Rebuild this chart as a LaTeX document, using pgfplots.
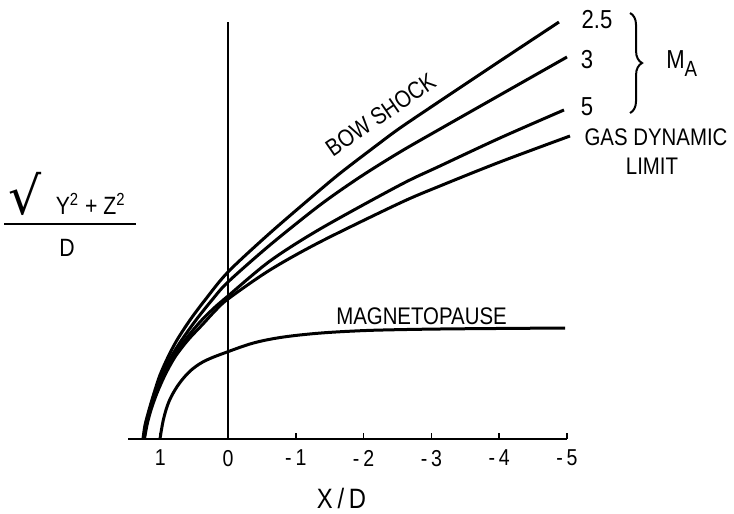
\documentclass[border=0pt]{standalone}
\usepackage{fontspec}
\setmainfont{Liberation Sans}[FakeStretch=0.85]
\newfontfamily\symfont{DejaVu Sans}
\usepackage{pgfplots}
\pgfplotsset{compat=1.18}
\usetikzlibrary{decorations.pathreplacing}

\begin{document}
\begin{tikzpicture}
\begin{axis}[
    x=33.9pt, y=33.9pt,
    x dir=reverse,
    xmin=-5, xmax=1.47,
    ymin=0, ymax=6.2,
    axis x line*=bottom,
    hide y axis,
    xtick={-5,-4,-3,-2,-1,0,1},
    xticklabels={-\,5,-\,4,-\,3,-\,2,-\,1,0,1},
    tick align=inside,
    major tick length=3pt,
    tick style={line width=0.8pt, black},
    axis line style={line width=1pt},
    xticklabel style={font=\fontsize{11.5}{13}\selectfont, yshift=-2pt},
    clip=false,
]

% bow shock, M_A = 2.5
\addplot[black, line width=1.5pt, smooth, tension=0.5] coordinates {
    (1.254,0) (1.224,0.206) (1.165,0.428) (1.091,0.678) (1.003,0.944)
    (0.885,1.209) (0.752,1.460) (0.560,1.755) (0.339,2.050) (0,2.463)
    (-0.619,3.038) (-1.357,3.673) (-1.696,3.953) (-2.198,4.336)
    (-2.537,4.587) (-3.127,4.985) (-4.012,5.575) (-4.882,6.150)
};
% M_A = 3
\addplot[black, line width=1.5pt, smooth, tension=0.5] coordinates {
    (1.246,0) (1.209,0.206) (1.158,0.428) (1.077,0.678) (0.973,0.944)
    (0.841,1.209) (0.683,1.460) (0.472,1.755) (0.236,2.050) (0,2.316)
    (-0.619,2.861) (-1.357,3.451) (-1.947,3.864) (-2.537,4.233)
    (-3.127,4.572) (-4.012,5.074) (-5.000,5.634)
};
% M_A = 5
\addplot[black, line width=1.5pt, smooth, tension=0.5] coordinates {
    (1.239,0) (1.202,0.206) (1.150,0.428) (1.062,0.678) (0.951,0.944)
    (0.811,1.209) (0.634,1.460) (0.413,1.726) (0.206,1.932) (0,2.109)
    (-0.619,2.625) (-1.357,3.097) (-2.537,3.746) (-3.127,4.027)
    (-4.012,4.440) (-4.956,4.853)
};
% gas dynamic limit
\addplot[black, line width=1.5pt, smooth, tension=0.5] coordinates {
    (1.232,0) (1.195,0.206) (1.136,0.428) (1.047,0.678) (0.929,0.944)
    (0.782,1.209) (0.590,1.460) (0.369,1.696) (0.192,1.888) (0,2.065)
    (-0.619,2.493) (-1.357,2.906) (-2.537,3.481) (-3.127,3.732)
    (-4.012,4.086) (-5.044,4.469)
};
% magnetopause
\addplot[black, line width=1.5pt, smooth, tension=0.6] coordinates {
    (1.003,0) (0.954,0.280) (0.881,0.527) (0.782,0.723) (0.659,0.895)
    (0.512,1.042) (0.314,1.165) (0,1.288) (-0.324,1.401) (-0.594,1.466)
    (-0.914,1.517) (-1.357,1.562) (-1.850,1.592) (-2.345,1.609)
    (-3.274,1.624) (-4.971,1.637)
};
% x = 0 line
\addplot[black, line width=1pt] coordinates {(0,0) (0,6.15)};

\node[font=\fontsize{12}{14}\selectfont, rotate=34.5] at (axis cs:-2.25,4.78) {BOW SHOCK};
\node[font=\fontsize{12}{14}\selectfont] at (axis cs:-2.854,1.814) {MAGNETOPAUSE};
\node[font=\fontsize{13}{15}\selectfont] at (axis cs:-5.442,6.187) {2.5};
\node[font=\fontsize{13}{15}\selectfont] at (axis cs:-5.295,5.590) {3};
\node[font=\fontsize{13}{15}\selectfont] at (axis cs:-5.295,4.897) {5};
\draw[line width=1pt, decorate, decoration={brace, amplitude=6pt}]
    (axis cs:-5.93,6.283) -- (axis cs:-5.93,4.808);
\node[font=\fontsize{13}{15}\selectfont, anchor=west] at (axis cs:-6.36,5.531)
    {M\raisebox{-4pt}{\fontsize{11}{13}\selectfont A}};
\node[font=\fontsize{12}{14}\selectfont] at (axis cs:-6.313,4.454) {GAS DYNAMIC};
\node[font=\fontsize{12}{14}\selectfont] at (axis cs:-6.254,4.027) {LIMIT};
\node[font=\fontsize{14}{16}\selectfont] at (axis cs:-1.674,-0.88) {X\,/\,D};
\node[font=\fontsize{12.5}{14}\selectfont, inner sep=0pt] at (axis cs:2.33,3.252) {%
    \arrayrulewidth=1pt
    \begin{tabular}{@{\hspace{2pt}}c@{\hspace{5pt}}}
    {\symfont\fontsize{26}{26}\selectfont √}\,\, Y\textsuperscript{2} + Z\textsuperscript{2}\\[0pt]
    \hline
    \rule{0pt}{16pt}D
    \end{tabular}};

\coordinate (bbl) at (axis cs:3.363,-1.106);
\coordinate (btr) at (axis cs:-7.463,6.475);
\end{axis}
\pgfresetboundingbox
\path[use as bounding box] (bbl) rectangle (btr);
\end{tikzpicture}
\end{document}
